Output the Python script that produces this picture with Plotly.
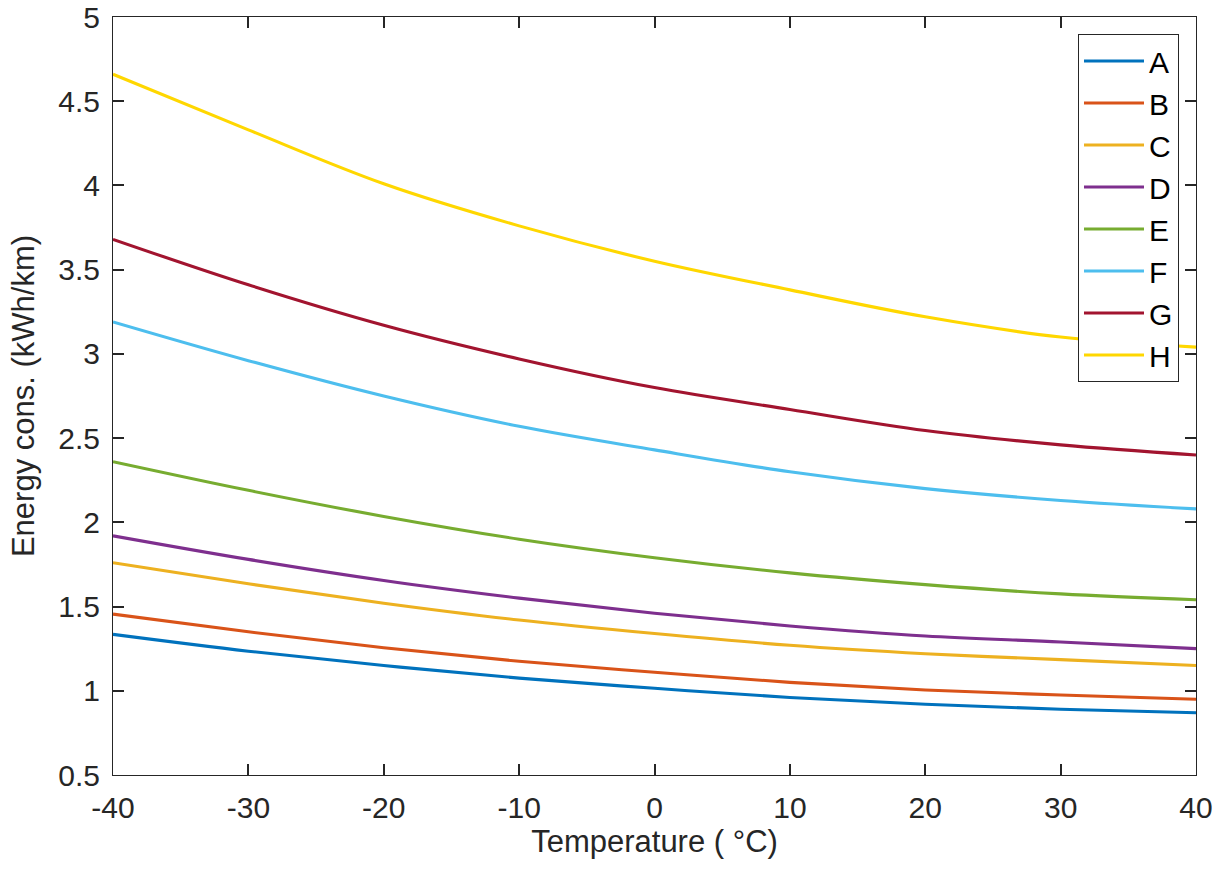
import plotly.graph_objects as go

temperature = [-40, -30, -20, -10, 0, 10, 20, 30, 40]
series_names = ["A", "B", "C", "D", "E", "F", "G", "H"]
A = [1.335, 1.235, 1.150, 1.075, 1.015, 0.960, 0.920, 0.890, 0.870]
B = [1.455, 1.350, 1.255, 1.175, 1.110, 1.050, 1.005, 0.975, 0.950]
C = [1.760, 1.635, 1.520, 1.420, 1.340, 1.270, 1.220, 1.185, 1.150]
D = [1.920, 1.780, 1.655, 1.550, 1.460, 1.385, 1.325, 1.290, 1.250]
E = [2.360, 2.190, 2.035, 1.900, 1.790, 1.700, 1.630, 1.575, 1.540]
F = [3.190, 2.960, 2.750, 2.570, 2.430, 2.300, 2.200, 2.130, 2.080]
G = [3.680, 3.410, 3.170, 2.970, 2.800, 2.670, 2.545, 2.460, 2.400]
H = [4.660, 4.330, 4.010, 3.760, 3.550, 3.380, 3.220, 3.100, 3.040]
series_values = [A, B, C, D, E, F, G, H]
colors = ["#0072BD", "#D95319", "#EDB120", "#7E2F8E", "#77AC30", "#4DBEEE", "#A2142F", "#FFD700"]

x_ticks = [-40, -30, -20, -10, 0, 10, 20, 30, 40]
y_ticks = [0.5, 1, 1.5, 2, 2.5, 3, 3.5, 4, 4.5, 5]
y_tick_labels = ["0.5", "1", "1.5", "2", "2.5", "3", "3.5", "4", "4.5", "5"]
x_title = "Temperature ( °C)"
y_title = "Energy cons. (kWh/km)"

FONT = "Liberation Sans, Arial, sans-serif"
AX = "#262626"

fig = go.Figure()
for name, vals, col in zip(series_names, series_values, colors):
    fig.add_trace(go.Scatter(x=temperature, y=vals, name=name, mode="lines",
                             line=dict(color=col, width=3.1, shape="spline", smoothing=1.0)))

fig.update_layout(
    width=1217, height=871,
    margin=dict(l=113, r=21, t=17, b=96),
    paper_bgcolor="white", plot_bgcolor="white",
    font=dict(family=FONT, size=30, color=AX),
    showlegend=True,
    legend=dict(x=0.9843, y=0.9776, xanchor="right", yanchor="top",
                bgcolor="white", bordercolor=AX, borderwidth=1,
                font=dict(family=FONT, size=30, color="black"),
                itemwidth=60, tracegroupgap=0),
)
fig.update_xaxes(range=[-40, 40], tickvals=x_ticks, ticktext=[str(t) for t in x_ticks],
                 automargin=False,
                 showgrid=False, zeroline=False, showline=True, linecolor=AX, linewidth=1,
                 mirror="allticks", ticks="inside", ticklen=11, tickcolor=AX, tickwidth=1.5,
                 ticklabelstandoff=6,
                 tickfont=dict(family=FONT, size=30, color=AX),
                 title=dict(text=x_title, font=dict(family=FONT, size=31, color=AX), standoff=4))
fig.update_yaxes(range=[0.5, 5], tickvals=y_ticks, ticktext=y_tick_labels,
                 automargin=False,
                 showgrid=False, zeroline=False, showline=True, linecolor=AX, linewidth=1,
                 mirror="allticks", ticks="inside", ticklen=11, tickcolor=AX, tickwidth=1.5,
                 ticklabelstandoff=6,
                 tickfont=dict(family=FONT, size=30, color=AX),
                 title=dict(text=y_title, font=dict(family=FONT, size=31, color=AX), standoff=14))

fig.write_html("out.html")
